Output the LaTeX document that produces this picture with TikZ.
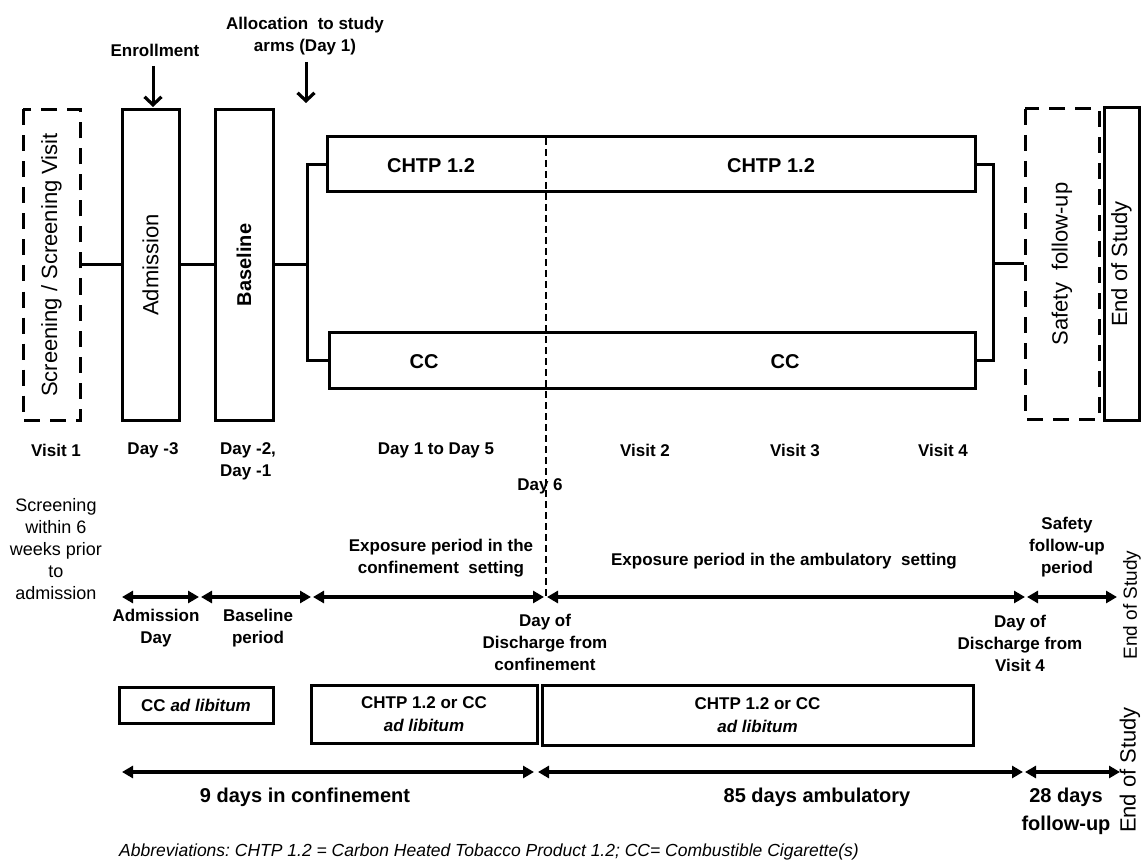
\documentclass[tikz,border=0pt]{standalone}
\usepackage{fontspec}
\setmainfont{Liberation Sans}
\usetikzlibrary{arrows.meta}
\frenchspacing
\begin{document}
\begin{tikzpicture}[x=1pt,y=-1pt,
  box/.style={draw, line width=3pt, inner sep=0pt},
  dbox/.style={draw, line width=3pt, dash pattern=on 16pt off 10pt, inner sep=0pt},
  conn/.style={line width=3pt},
  downarrow/.style={line width=3pt, -{Straight Barb[length=8pt,width=17pt,line width=3.2pt]}},
  tl/.style={line width=3.5pt, {Triangle[length=11pt,width=12pt]}-{Triangle[length=11pt,width=12pt]}},
  rot/.style={font=\fontsize{22}{26}\selectfont},
  lab/.style={font=\fontsize{17}{22}\selectfont\bfseries, align=center, inner sep=0pt},
  note/.style={font=\fontsize{18}{22}\selectfont, align=center, inner sep=0pt},
  big/.style={font=\fontsize{20}{28}\selectfont\bfseries, align=center, inner sep=0pt},
  armlab/.style={font=\fontsize{20}{24}\selectfont\bfseries, inner sep=0pt},
]
\useasboundingbox (0,0) rectangle (1141,861);

% top boxes
\node[dbox, rotate=90, minimum width=311pt, minimum height=57pt, rot] (scr) at (51.5,265) {Screening / Screening Visit};
\node[box, rotate=90, minimum width=310pt, minimum height=57pt, rot] (adm) at (150.5,265) {Admission};
\node[box, rotate=90, minimum width=310pt, minimum height=58pt, font=\fontsize{20}{24}\selectfont\bfseries] (bas) at (244,265) {Baseline};
\node[dbox, rotate=90, minimum width=310pt, minimum height=74pt, rot] (saf) at (1062,264) {Safety\ \ follow-up};
\node[box, rotate=90, minimum width=312pt, minimum height=35pt, rot] (eos) at (1121.5,264) {End of Study};

% arms
\node[box, minimum width=648pt, minimum height=55pt] (arm1) at (651,164.5) {};
\node[box, minimum width=646pt, minimum height=56pt] (arm2) at (652,360) {};
\node[armlab] (a1l) at (431,166) {CHTP 1.2};
\node[armlab] (a1r) at (771,166) {CHTP 1.2};
\node[armlab] (a2l) at (424,362) {CC};
\node[armlab] (a2r) at (785,362) {CC};

% connectors
\coordinate (sl) at (307,265);
\coordinate (sr) at (993,264);
\draw[conn] (scr) -- (adm);
\draw[conn] (adm) -- (bas);
\draw[conn] (bas) -- (sl);
\draw[conn] (arm1.west) -| (sl) |- (arm2.west);
\draw[conn] (arm1.east) -| (sr) |- (arm2.east);
\draw[conn] (sr) -- (saf);

% top annotations
\node[lab] (enr) at (155,50) {Enrollment};
\coordinate (enrtip) at (153,107);
\draw[downarrow] (153,66) -- (enrtip);
\node[lab] (alloc) at (305,36) {Allocation\ \ to study\\arms (Day 1)};
\coordinate (alloctip) at (306,103);
\draw[downarrow] (306,62) -- (alloctip);

% row labels
\node[lab] (v1) at (56,450) {Visit 1};
\node[lab] (dm3) at (153,450) {Day -3};
\node[lab, align=left, anchor=north west] (dm2) at (220,442) {Day -2,\\Day -1};
\node[lab] (d15) at (436,450) {Day 1 to Day 5};
\node[lab] (v2) at (645,450) {Visit 2};
\node[lab] (v3) at (795,450) {Visit 3};
\node[lab] (v4) at (943,450) {Visit 4};
\node[lab] (d6) at (540,486) {Day 6};

\node[note] (scrnote) at (56,549) {Screening\\within 6\\weeks prior\\to\\admission};
\node[lab] (expc) at (441,558) {Exposure period in the\\confinement\ \ setting};
\node[lab] (expa) at (784,561) {Exposure period in the ambulatory\ \ setting};
\node[lab] (sfp) at (1067,547) {Safety\\follow-up\\period};

% dashed day 6 line
\coordinate (d6top) at (546,138);
\coordinate (d6bot) at (546,597);
\draw[line width=1.8pt, dash pattern=on 7pt off 4pt] (d6top) -- (d6bot);

% timeline 1
\coordinate (t0) at (122,597);
\coordinate (t1a) at (199,597);
\coordinate (t1b) at (201,597);
\coordinate (t2a) at (311,597);
\coordinate (t2b) at (313,597);
\coordinate (t3a) at (544,597);
\coordinate (t3b) at (547,597);
\coordinate (t4a) at (1025,597);
\coordinate (t4b) at (1027,597);
\coordinate (t5) at (1117,597);
\draw[tl] (t0) -- (t1a);
\draw[tl] (t1b) -- (t2a);
\draw[tl] (t2b) -- (t3a);
\draw[tl] (t3b) -- (t4a);
\draw[tl] (t4b) -- (t5);

\node[lab] (admday) at (156,628) {Admission\\Day};
\node[lab] (basper) at (258,628) {Baseline\\period};
\node[lab] (dis1) at (545,642) {Day of\\Discharge from\\confinement};
\node[lab] (dis2) at (1020,643) {Day of\\Discharge from\\Visit 4};
\node[rotate=90, font=\fontsize{19}{22}\selectfont, inner sep=0pt] (eos1) at (1132,605) {End of Study};

% product boxes
\node[box, minimum width=154pt, minimum height=36pt, font=\fontsize{17}{22}\selectfont\bfseries] (ccad) at (196,705) {CC \textit{ad libitum}};
\node[box, minimum width=226pt, minimum height=58pt, font=\fontsize{17}{23}\selectfont\bfseries, align=center] (pb1) at (424,714) {CHTP 1.2 or CC\\\textit{ad libitum}};
\node[box, minimum width=431pt, minimum height=60pt, font=\fontsize{17}{23}\selectfont\bfseries, align=center] (pb2) at (757.5,715) {CHTP 1.2 or CC\\\textit{ad libitum}};

% timeline 2
\coordinate (b0) at (122,772);
\coordinate (b1a) at (534,772);
\coordinate (b1b) at (538,772);
\coordinate (b2a) at (1023,772);
\coordinate (b2b) at (1025,772);
\coordinate (b3) at (1120,772);
\draw[tl] (b0) -- (b1a);
\draw[tl] (b1b) -- (b2a);
\draw[tl] (b2b) -- (b3);

\node[big] (nine) at (305,797) {9 days in confinement};
\node[big] (eightyfive) at (817,797) {85 days ambulatory};
\node[big] (twentyeight) at (1066,811) {28 days\\follow-up};
\node[rotate=90, font=\fontsize{22}{26}\selectfont, inner sep=0pt] (eos2) at (1130,770) {End of Study};

\node[anchor=west, font=\fontsize{17.5}{20}\selectfont\itshape, inner sep=0pt] (abbr) at (119,852) {Abbreviations: CHTP 1.2 = Carbon Heated Tobacco Product 1.2; CC= Combustible Cigarette(s)};
\end{tikzpicture}
\end{document}
